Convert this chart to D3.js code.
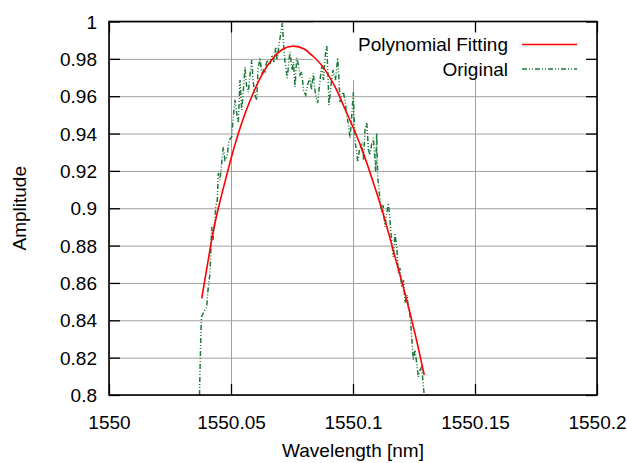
<!DOCTYPE html>
<html>
<head>
<meta charset="utf-8">
<script src="https://cdn.jsdelivr.net/npm/d3@7"></script>
<style>
  body { margin: 0; background: #fff; }
  text { font-family: "Liberation Sans", Arial, sans-serif; font-size: 19px; fill: #000; }
</style>
</head>
<body>
<div id="chart"></div>
<script>
var svgWidth = 627;
var svgHeight = 463;

// plot box in pixels
var margin = { top: 21.5, right: 30, bottom: 68, left: 109 };
var chartWidth = svgWidth - margin.left - margin.right;
var chartHeight = svgHeight - margin.top - margin.bottom;

// tick values
var xTicks = [1550, 1550.05, 1550.1, 1550.15, 1550.2];
var yTicks = [0.8, 0.82, 0.84, 0.86, 0.88, 0.9, 0.92, 0.94, 0.96, 0.98, 1];

// polynomial fitting
var fitWavelength = [1550.0380, 1550.0420, 1550.0448, 1550.0480, 1550.0500, 1550.0530, 1550.0560,
  1550.0592, 1550.0630, 1550.0670, 1550.0710, 1550.0755, 1550.0800, 1550.0831, 1550.0872,
  1550.0926, 1550.0960, 1550.0988, 1550.1036, 1550.1090, 1550.1131, 1550.1172, 1550.1213,
  1550.1254, 1550.1292];
var fitAmplitude = [0.8518, 0.8825, 0.9000, 0.9165, 0.9265, 0.9400, 0.9515,
  0.9620, 0.9722, 0.9800, 0.9850, 0.9868, 0.9853, 0.9820, 0.9765,
  0.9651, 0.9553, 0.9470, 0.9318, 0.9111, 0.8937, 0.8741, 0.8545,
  0.8330, 0.8107];

var origWavelength = [1550.03709, 1550.03730, 1550.03771, 1550.03791, 1550.03865, 1550.04004, 1550.04057,
  1550.04139, 1550.04209, 1550.04262, 1550.04344, 1550.04373, 1550.04439, 1550.04480, 1550.04549,
  1550.04684, 1550.04754, 1550.04836, 1550.04918, 1550.05029, 1550.05082, 1550.05164, 1550.05234,
  1550.05299, 1550.05369, 1550.05439, 1550.05492, 1550.05574, 1550.05635, 1550.05709, 1550.05779,
  1550.05848, 1550.05902, 1550.05984, 1550.06053, 1550.06107, 1550.06189, 1550.06271, 1550.06332,
  1550.06393, 1550.06475, 1550.06598, 1550.06680, 1550.06762, 1550.06832, 1550.06885, 1550.06967,
  1550.07029, 1550.07103, 1550.07172, 1550.07213, 1550.07307, 1550.07377, 1550.07418, 1550.07500,
  1550.07562, 1550.07623, 1550.07693, 1550.07766, 1550.07828, 1550.07898, 1550.07971, 1550.08061,
  1550.08135, 1550.08238, 1550.08299, 1550.08373, 1550.08463, 1550.08553, 1550.08627, 1550.08717,
  1550.08791, 1550.08852, 1550.08922, 1550.08975, 1550.09016, 1550.09098, 1550.09180, 1550.09283,
  1550.09373, 1550.09426, 1550.09467, 1550.09529, 1550.09603, 1550.09672, 1550.09742, 1550.09816,
  1550.09877, 1550.09939, 1550.10012, 1550.10082, 1550.10143, 1550.10193, 1550.10266, 1550.10357,
  1550.10430, 1550.10492, 1550.10562, 1550.10635, 1550.10697, 1550.10758, 1550.10832, 1550.10902,
  1550.10930, 1550.10971, 1550.11012, 1550.11066, 1550.11107, 1550.11176, 1550.11230, 1550.11312,
  1550.11373, 1550.11447, 1550.11516, 1550.11557, 1550.11652, 1550.11721, 1550.11803, 1550.11857,
  1550.11926, 1550.11996, 1550.12070, 1550.12131, 1550.12213, 1550.12266, 1550.12336, 1550.12377,
  1550.12471, 1550.12541, 1550.12611, 1550.12676, 1550.12746, 1550.12816, 1550.12910];
var origAmplitude = [0.8000, 0.8134, 0.8348, 0.8418, 0.8439, 0.8471, 0.8562,
  0.8653, 0.8900, 0.8830, 0.8937, 0.9007, 0.9044, 0.9189, 0.9151,
  0.9328, 0.9258, 0.9274, 0.9365, 0.9382, 0.9473, 0.9580, 0.9510,
  0.9457, 0.9687, 0.9526, 0.9606, 0.9756, 0.9660, 0.9622, 0.9714,
  0.9794, 0.9687, 0.9606, 0.9580, 0.9740, 0.9805, 0.9714, 0.9740,
  0.9730, 0.9794, 0.9767, 0.9821, 0.9783, 0.9863, 0.9794, 0.9874,
  0.9928, 0.9992, 0.9847, 0.9783, 0.9697, 0.9794, 0.9837, 0.9740,
  0.9783, 0.9649, 0.9805, 0.9767, 0.9714, 0.9730, 0.9633, 0.9606,
  0.9660, 0.9697, 0.9633, 0.9724, 0.9606, 0.9564, 0.9660, 0.9767,
  0.9687, 0.9805, 0.9874, 0.9714, 0.9553, 0.9660, 0.9740, 0.9687,
  0.9805, 0.9687, 0.9569, 0.9606, 0.9622, 0.9580, 0.9499, 0.9446,
  0.9376, 0.9473, 0.9622, 0.9355, 0.9312, 0.9248, 0.9312, 0.9339,
  0.9258, 0.9419, 0.9462, 0.9312, 0.9285, 0.9339, 0.9376, 0.9258,
  0.9192, 0.9403, 0.9168, 0.9098, 0.9044, 0.8980, 0.9017, 0.8900,
  0.8964, 0.9028, 0.8937, 0.8867, 0.8739, 0.8867, 0.8776, 0.8653,
  0.8680, 0.8578, 0.8616, 0.8493, 0.8535, 0.8471, 0.8428, 0.8364,
  0.8187, 0.8241, 0.8171, 0.8096, 0.8134, 0.8150, 0.8011];

var fitData = fitWavelength.map((w, i) => ({ x: w, y: fitAmplitude[i] }));
var origData = origWavelength.map((w, i) => ({ x: w, y: origAmplitude[i] }));

var svg = d3.select("#chart")
  .append("svg")
  .attr("width", svgWidth)
  .attr("height", svgHeight);

var chartGroup = svg.append("g")
  .attr("transform", `translate(${margin.left}, ${margin.top})`);

var xScale = d3.scaleLinear()
  .domain([1550, 1550.2])
  .range([0, chartWidth]);

var yScale = d3.scaleLinear()
  .domain([0.8, 1])
  .range([chartHeight, 0]);

// grid
chartGroup.append("g")
  .attr("class", "grid")
  .call(d3.axisBottom(xScale).tickValues(xTicks).tickSize(chartHeight).tickFormat(""));

chartGroup.append("g")
  .attr("class", "grid")
  .call(d3.axisLeft(yScale).tickValues(yTicks).tickSize(-chartWidth).tickFormat(""));

chartGroup.selectAll(".grid .domain").remove();
chartGroup.selectAll(".grid line")
  .attr("stroke", "#a0a0a0")
  .attr("stroke-width", 1);

// key area is blanked like gnuplot's opaque key
chartGroup.append("rect")
  .attr("x", 204)
  .attr("y", 0)
  .attr("width", chartWidth - 204)
  .attr("height", 58.5)
  .attr("fill", "#fff");

// data lines
chartGroup.append("path")
  .datum(origData)
  .attr("fill", "none")
  .attr("stroke", "#1e7a3c")
  .attr("stroke-width", 1.5)
  .attr("stroke-dasharray", "5,2,1,2,1,2")
  .attr("d", d3.line().x(d => xScale(d.x)).y(d => yScale(d.y)));

chartGroup.append("path")
  .datum(fitData)
  .attr("fill", "none")
  .attr("stroke", "#ff0000")
  .attr("stroke-width", 1.6)
  .attr("d", d3.line().x(d => xScale(d.x)).y(d => yScale(d.y)).curve(d3.curveNatural));

// border ticks on all four sides
var tickLen = 11;
var bottomAxis = d3.axisBottom(xScale).tickValues(xTicks).tickSizeInner(-tickLen).tickSizeOuter(0)
  .tickFormat(d3.format("~g"));
var topAxis = d3.axisTop(xScale).tickValues(xTicks).tickSizeInner(-tickLen).tickSizeOuter(0).tickFormat("");
var leftAxis = d3.axisLeft(yScale).tickValues(yTicks).tickSizeInner(-tickLen).tickSizeOuter(0)
  .tickFormat(d3.format("~g"));
var rightAxis = d3.axisRight(yScale).tickValues(yTicks).tickSizeInner(-tickLen).tickSizeOuter(0).tickFormat("");

var xAxis = chartGroup.append("g")
  .attr("class", "axis")
  .attr("transform", `translate(0, ${chartHeight})`)
  .call(bottomAxis);
chartGroup.append("g").attr("class", "axis").call(topAxis);
var yAxis = chartGroup.append("g").attr("class", "axis").call(leftAxis);
chartGroup.append("g")
  .attr("class", "axis")
  .attr("transform", `translate(${chartWidth}, 0)`)
  .call(rightAxis);

chartGroup.selectAll(".axis .domain").remove();
chartGroup.selectAll(".axis .tick line")
  .attr("stroke", "#000")
  .attr("stroke-width", 1.3);

xAxis.selectAll("text")
  .attr("font-size", 19)
  .attr("font-family", "Liberation Sans, Arial, sans-serif")
  .attr("dy", 0)
  .attr("y", 34);
yAxis.selectAll("text")
  .attr("font-size", 19)
  .attr("font-family", "Liberation Sans, Arial, sans-serif")
  .attr("x", -12)
  .attr("dy", "0.35em");

// frame
chartGroup.append("rect")
  .attr("width", chartWidth)
  .attr("height", chartHeight)
  .attr("fill", "none")
  .attr("stroke", "#000")
  .attr("stroke-width", 1.6);

// axis titles
svg.append("text")
  .attr("x", margin.left + chartWidth / 2)
  .attr("y", 457)
  .attr("text-anchor", "middle")
  .text("Wavelength [nm]");

svg.append("text")
  .attr("transform", `translate(26, ${margin.top + chartHeight / 2}) rotate(-90)`)
  .attr("text-anchor", "middle")
  .text("Amplitude");

// legend
var legend = svg.append("g");
var keys = [
  { label: "Polynomial Fitting", color: "#ff0000", dash: null, y: 44.5 },
  { label: "Original", color: "#1e7a3c", dash: "5,2,1,2,1,2", y: 69 }
];
keys.forEach(function(k) {
  legend.append("text")
    .attr("x", 508)
    .attr("y", k.y)
    .attr("dy", "0.35em")
    .attr("text-anchor", "end")
    .text(k.label);
  legend.append("line")
    .attr("x1", 522)
    .attr("x2", 577)
    .attr("y1", k.y)
    .attr("y2", k.y)
    .attr("stroke", k.color)
    .attr("stroke-width", 1.5)
    .attr("stroke-dasharray", k.dash);
});
</script>
</body>
</html>
